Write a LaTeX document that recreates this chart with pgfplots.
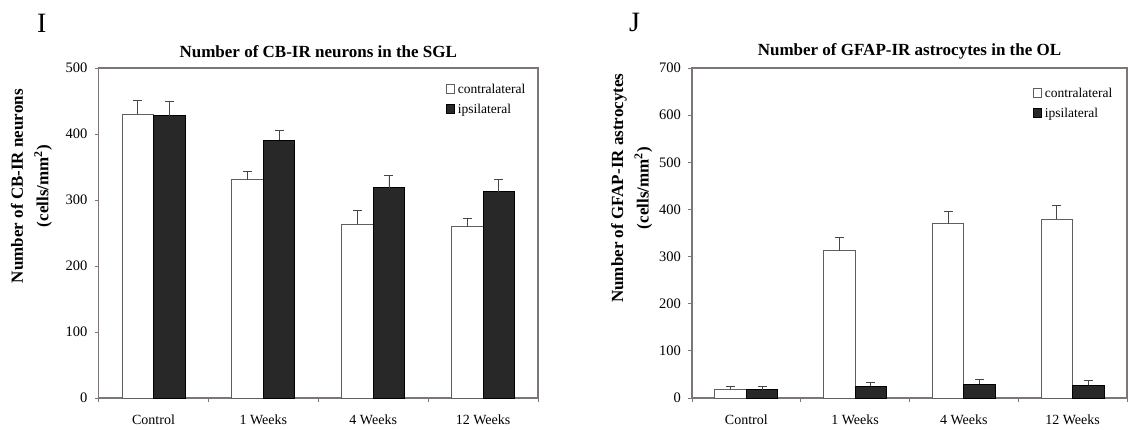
\documentclass[border=0pt]{standalone}
\usepackage{fontspec}
\setmainfont{Liberation Serif}
\usepackage{pgfplots}
\pgfplotsset{compat=1.18}
\definecolor{axisgray}{RGB}{125,118,118}
\definecolor{barblack}{RGB}{40,40,40}
\definecolor{edgegray}{RGB}{95,95,95}
\definecolor{errgray}{RGB}{70,70,70}
\pgfplotsset{
  panel/.style={
    scale only axis, height=330pt,
    ybar=0pt, bar width=31.5pt,
    xmin=-0.5, xmax=3.5, ymin=0,
    xtick={0,1,2,3}, xticklabels={Control,1 Weeks,4 Weeks,12 Weeks},
    minor xtick={-0.5,0.5,1.5,2.5,3.5},
    major x tick style={draw=none},
    xtick pos=bottom, ytick pos=left,
    tick align=outside, major tick length=4pt, minor tick length=4pt,
    axis line style={axisgray, line width=1.3pt},
    every tick/.style={axisgray, line width=0.8pt},
    /pgf/number format/assume math mode=true,
    yticklabel style={font=\fontsize{14.5}{14.5}\selectfont, inner sep=0pt, anchor=east, xshift=-7pt},
    xticklabel style={font=\fontsize{14}{14}\selectfont, inner sep=0pt, anchor=north, yshift=-13pt},
    every axis title/.style={at={(axis description cs:0.5,1)}, anchor=base, font=\bfseries\fontsize{17}{20}\selectfont},
    legend image code/.code={\draw[#1, line width=0.6pt] (0pt,0pt) rectangle (8pt,9pt);},
    legend style={draw=none, fill=none, inner sep=0pt, font=\fontsize{13.5}{16}\selectfont,
      nodes={inner sep=0pt, text height=10pt, text depth=3pt, anchor=base west}, row sep=7pt,
      /tikz/every odd column/.append style={column sep=3pt}},
    legend cell align=left,
  },
  whitebar/.style={draw=edgegray, fill=white, line width=1pt,
    error bars/.cd, y dir=plus, y explicit,
    error bar style={errgray, line width=0.9pt},
    error mark options={rotate=90, mark size=4.5pt, errgray, line width=0.9pt}},
  blackbar/.style={draw=black, fill=barblack, line width=1pt,
    error bars/.cd, y dir=plus, y explicit,
    error bar style={errgray, line width=0.9pt},
    error mark options={rotate=90, mark size=4.5pt, errgray, line width=0.9pt}},
}
\begin{document}
\begin{tikzpicture}
\path[use as bounding box] (0pt,0pt) rectangle (1128pt,429pt);
\node[anchor=base west, inner sep=0pt, font=\fontsize{28}{28}\selectfont] at (37pt,396pt) {I};
\node[anchor=base west, inner sep=0pt, font=\fontsize{28}{28}\selectfont] at (629pt,397pt) {J};
% Left panel
\begin{axis}[panel, at={(98.6pt,31pt)}, anchor=south west, width=439.4pt,
  ymax=500, ytick={0,100,200,300,400,500},
  title={Number of CB-IR neurons in the SGL},
  title style={yshift=11pt},
  every axis y label/.style={at={(axis description cs:-0.1527,0.642)}, rotate=90, anchor=center,
    align=center, font=\bfseries\fontsize{17}{25.5}\selectfont},
  ylabel={Number of CB-IR neurons\\(cells/mm$^{\mathbf{2}}$)},
  legend style={at={(axis description cs:0.7906,0.953)}, anchor=north west},
]
\addplot[whitebar] coordinates {(0,430.3) +- (0,20.2) (1,330.8) +- (0,12.6) (2,263.6) +- (0,20.2) (3,259.1) +- (0,12.6)};
\addplot[blackbar] coordinates {(0,427.8) +- (0,21.7) (1,390.9) +- (0,14.7) (2,318.7) +- (0,18.7) (3,312.6) +- (0,19.2)};
\legend{contralateral, ipsilateral}
\end{axis}
% Right panel
\begin{axis}[panel, at={(692pt,31pt)}, anchor=south west, width=435pt,
  ymax=700, ytick={0,100,200,300,400,500,600,700},
  title={Number of GFAP-IR astrocytes in the OL},
  title style={yshift=13pt},
  every axis y label/.style={at={(axis description cs:-0.1388,0.636)}, rotate=90, anchor=center,
    align=center, font=\bfseries\fontsize{17}{25.5}\selectfont},
  ylabel={Number of GFAP-IR astrocytes\\(cells/mm$^{\mathbf{2}}$)},
  legend style={at={(axis description cs:0.784,0.941)}, anchor=north west},
]
\addplot[whitebar] coordinates {(0,17.6) +- (0,6.4) (1,311.9) +- (0,29.0) (2,369.1) +- (0,27.5) (3,379.7) +- (0,28.9)};
\addplot[blackbar] coordinates {(0,17.6) +- (0,7.0) (1,24.7) +- (0,9.2) (2,29.6) +- (0,9.2) (3,27.5) +- (0,9.9)};
\legend{contralateral, ipsilateral}
\end{axis}
\end{tikzpicture}
\end{document}
